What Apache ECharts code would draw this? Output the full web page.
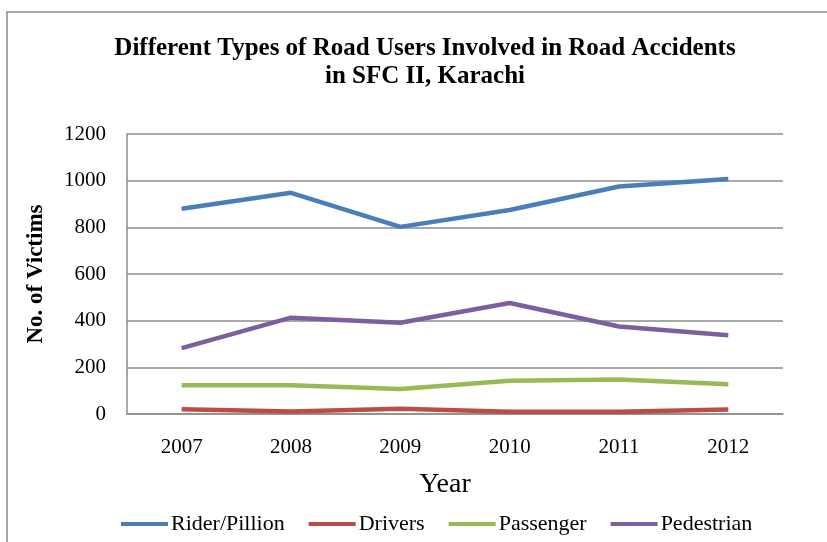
<!DOCTYPE html>
<html><head><meta charset="utf-8">
<script src="https://cdn.jsdelivr.net/npm/echarts@6/dist/echarts.min.js"></script>
<style>html,body{margin:0;padding:0;background:#fff}#c{width:827px;height:542px}</style>
</head><body><div id="c"></div>
<script>
const years = ['2007','2008','2009','2010','2011','2012'];
const riderPillion = [880, 948, 802, 874, 975, 1007];
const drivers = [20, 11, 23, 10, 10, 19];
const passenger = [123, 123, 107, 143, 148, 128];
const pedestrian = [282, 413, 391, 476, 375, 337];
const seriesNames = ['Rider/Pillion','Drivers','Passenger','Pedestrian'];
const colors = ['#4a7ebb','#be4b48','#98b954','#7d5fa0'];
const font = '"Liberation Serif","Times New Roman",serif';
const chart = echarts.init(document.getElementById('c'));
const data = [riderPillion, drivers, passenger, pedestrian];
chart.setOption({
  animation:false,
  graphic:[{type:'rect',shape:{x:7,y:12,width:840,height:560},style:{fill:'none',stroke:'#8c8c8c',lineWidth:1.5}}],
  title:{text:'Different Types of Road Users Involved in Road Accidents\nin SFC II, Karachi',left:420,top:30,
    textAlign:'center',
    textStyle:{fontFamily:font,fontWeight:'bold',fontSize:25,lineHeight:28,color:'#000'}},
  legend:{top:508,left:116,itemWidth:47,itemHeight:4,itemGap:24,icon:'rect',
    textStyle:{fontFamily:font,fontSize:22,color:'#000',padding:[0,0,0,-2]},
    data:seriesNames},
  grid:{left:127,top:134,right:44,bottom:128},
  xAxis:{type:'category',data:years,boundaryGap:true,
    name:'Year',nameLocation:'middle',nameGap:57,
    nameTextStyle:{fontFamily:font,fontSize:28,color:'#000',padding:[0,20,0,0]},
    axisLine:{lineStyle:{color:'#8c8c8c',width:1.5}},axisTick:{show:false},
    axisLabel:{fontFamily:font,fontSize:21,color:'#000',margin:23}},
  yAxis:{type:'value',min:0,max:1200,interval:200,
    name:'No. of Victims',nameLocation:'middle',nameGap:79,nameRotate:90,
    nameTextStyle:{fontFamily:font,fontSize:23,fontWeight:'bold',color:'#000'},
    axisLine:{show:true,lineStyle:{color:'#8c8c8c',width:1.5}},
    axisTick:{show:false},
    splitLine:{lineStyle:{color:'#8c8c8c',width:1.5}},
    axisLabel:{fontFamily:font,fontSize:21,color:'#000',margin:21,formatter:v=>String(v)}},
  series:seriesNames.map((n,i)=>({name:n,type:'line',data:data[i],symbol:'none',
    lineStyle:{color:colors[i],width:4.5},itemStyle:{color:colors[i]}}))
});
</script></body></html>
